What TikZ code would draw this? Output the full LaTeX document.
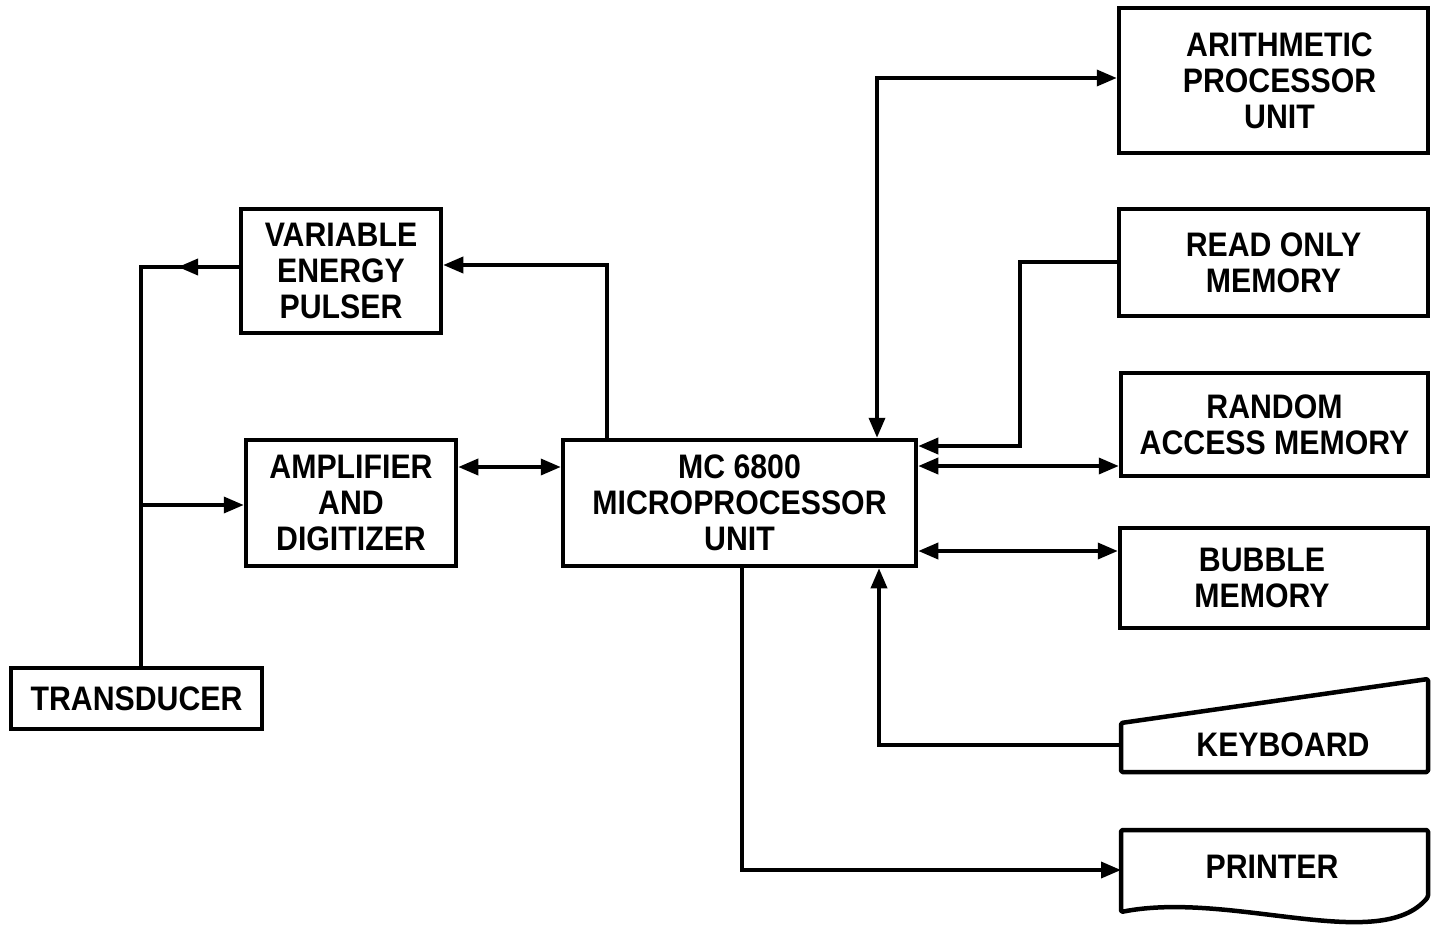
\documentclass[tikz,border=0pt]{standalone}
\usepackage{fontspec}
\setmainfont{Liberation Sans}[FakeStretch=0.89]
\usetikzlibrary{arrows.meta}
\newcommand{\lsh}[1]{\hspace*{#1}}
\begin{document}
\begin{tikzpicture}[x=1pt,y=-1pt,
  lbl/.style={align=center, font=\bfseries\fontsize{34}{36}\selectfont, inner sep=0pt},
  box/.style={lbl, draw, line width=4.5pt},
  shp/.style={line width=4.5pt, line join=round, rounded corners=1.5pt},
  conn/.style={line width=3.6pt},
  tip/.style={-{Triangle[length=20pt,width=16pt]}},
  both/.style={{Triangle[length=20pt,width=16pt]}-{Triangle[length=20pt,width=16pt]}}]
\useasboundingbox (0,0) rectangle (1431,926);

% boxes
\node[box, minimum width=200pt, minimum height=124pt] (vep) at (341,271) {VARIABLE\\ENERGY\\PULSER};
\node[box, minimum width=210pt, minimum height=126pt] (amp) at (351,503) {AMPLIFIER\\AND\\DIGITIZER};
\node[box, minimum width=353pt, minimum height=126pt] (mpu) at (739.5,503) {MC 6800\\MICROPROCESSOR\\UNIT};
\node[box, minimum width=251pt, minimum height=61pt] (trans) at (136.5,698.5) {TRANSDUCER};
\node[box, minimum width=309pt, minimum height=145pt] (apu) at (1273.5,80.5) {\lsh{12pt}ARITHMETIC\\\lsh{12pt}PROCESSOR\\\lsh{12pt}UNIT};
\node[box, minimum width=309pt, minimum height=107pt] (rom) at (1273.5,262.5) {READ ONLY\\MEMORY};
\node[box, minimum width=307pt, minimum height=103pt] (ram) at (1274.5,424.5) {RANDOM\\ACCESS MEMORY};
\node[box, minimum width=308pt, minimum height=100pt] (bub) at (1274,578) {BUBBLE\lsh{24pt}\\MEMORY\lsh{24pt}};

% keyboard
\draw[shp] (1121,723) -- (1428,679) -- (1428,772) -- (1121,772) -- cycle;
\node[lbl] (kb) at (1283,745) {KEYBOARD};
% printer
\draw[shp] (1121,830) -- (1428,830) -- (1428,897)
  .. controls (1380,955) and (1230,890) .. (1121,912) -- cycle;
\node[lbl] (prt) at (1272,867) {PRINTER};

% coordinates
\coordinate (c1) at (141,267);
\coordinate (c1tip) at (178,267);
\coordinate (c2) at (141,505);
\coordinate (c3) at (607,265);
\coordinate (c4) at (500,467);
\coordinate (c5) at (877,78);
\coordinate (c6) at (1020,262);
\coordinate (c6b) at (1020,446);
\coordinate (c7) at (1000,466);
\coordinate (c8) at (1000,551);
\coordinate (c9) at (879,745);
\coordinate (kbin) at (1121,745);
\coordinate (c10) at (742,870);
\coordinate (prin) at (1121,870);

% connectors
\draw[conn] (vep.west |- c1) -- (c1) -- (c1 |- trans.north);
\draw[conn,tip] (vep.west |- c1) -- (c1tip);
\draw[conn,tip] (c2) -- (amp.west |- c2);
\draw[conn,tip] (c3 |- mpu.north) -- (c3) -- (vep.east |- c3);
\draw[conn,both] (amp.east |- c4) -- (mpu.west |- c4);
\draw[conn,both] (c5 |- mpu.north) -- (c5) -- (apu.west |- c5);
\draw[conn,tip] (rom.west |- c6) -- (c6) -- (c6b) -- (mpu.east |- c6b);
\draw[conn,both] (mpu.east |- c7) -- (ram.west |- c7);
\draw[conn,both] (mpu.east |- c8) -- (bub.west |- c8);
\draw[conn,tip] (kbin) -- (c9) -- (c9 |- mpu.south);
\draw[conn,tip] (c10 |- mpu.south) -- (c10) -- (prin);
\end{tikzpicture}
\end{document}
